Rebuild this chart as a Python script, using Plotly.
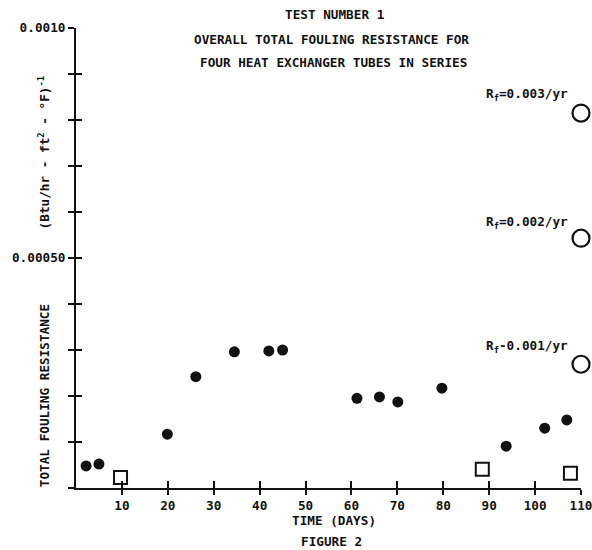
import plotly.graph_objects as go

# ---- data ----
fill_days = [2.2, 5.0, 19.9, 26.1, 34.5, 42.0, 45.0, 61.2, 66.1, 70.1, 79.7, 93.7, 102.1, 106.9]
fill_rf = [0.000048, 0.000052, 0.000117, 0.000242, 0.000296, 0.000298, 0.000300,
           0.000195, 0.000198, 0.000187, 0.000217, 0.000091, 0.000130, 0.000148]
square_days = [9.7, 88.5, 107.7]
square_rf = [0.000023, 0.000041, 0.000032]
rate_days = [110, 110, 110]
rate_rf = [0.000815, 0.000543, 0.000269]
rate_labels = ["R<sub>f</sub>=0.003/yr", "R<sub>f</sub>=0.002/yr", "R<sub>f</sub>-0.001/yr"]
rate_label_y = [0.000855, 0.000577, 0.000307]
rate_label_x = 98.3

x_ticks = [10, 20, 30, 40, 50, 60, 70, 80, 90, 100, 110]
y_ticks = [0.0, 0.0001, 0.0002, 0.0003, 0.0004, 0.0005, 0.0006, 0.0007, 0.0008, 0.0009, 0.0010]
y_label_vals = [0.0005, 0.0010]
y_label_text = ["0.00050", "0.0010"]

title_lines = ["TEST NUMBER 1", "OVERALL TOTAL FOULING RESISTANCE FOR",
               "FOUR HEAT EXCHANGER TUBES IN SERIES"]

FONT = "DejaVu Sans Mono, Liberation Mono, monospace"
BLACK = "#111111"

fig = go.Figure()
fig.add_trace(go.Scatter(x=fill_days, y=fill_rf, mode="markers",
                         marker=dict(symbol="circle", size=11, color=BLACK),
                         cliponaxis=False, showlegend=False))
fig.add_trace(go.Scatter(x=square_days, y=square_rf, mode="markers",
                         marker=dict(symbol="square-open", size=13, color=BLACK,
                                     line=dict(width=2, color=BLACK)),
                         cliponaxis=False, showlegend=False))
fig.add_trace(go.Scatter(x=rate_days, y=rate_rf, mode="markers",
                         marker=dict(symbol="circle-open", size=17, color=BLACK,
                                     line=dict(width=2.2, color=BLACK)),
                         cliponaxis=False, showlegend=False))
# invisible trace to carry the overlay axes (inside tick halves)
fig.add_trace(go.Scatter(x=[0], y=[0], xaxis="x2", yaxis="y2", mode="markers",
                         marker=dict(opacity=0), showlegend=False, hoverinfo="skip"))

tickfont = dict(family=FONT, size=12.7, color=BLACK, weight="bold")

fig.update_layout(
    width=592, height=550,
    margin=dict(l=76, r=11, t=28, b=62),
    paper_bgcolor="white", plot_bgcolor="white",
    xaxis=dict(range=[0, 110], tickvals=x_ticks, ticks="outside", ticklen=5,
               tickwidth=2, tickcolor=BLACK, showline=True, linewidth=2,
               linecolor=BLACK, showgrid=False, zeroline=False, tickfont=tickfont,
               automargin=False, ticklabeloverflow="allow"),
    yaxis=dict(range=[0, 0.0010], tickvals=y_label_vals, ticktext=y_label_text,
               ticks="outside", ticklen=6, tickwidth=2, tickcolor=BLACK,
               minor=dict(tickvals=y_ticks, ticks="outside", ticklen=6, tickwidth=2,
                          tickcolor=BLACK, showgrid=False),
               showline=True, linewidth=2, linecolor=BLACK, showgrid=False,
               zeroline=False, tickfont=tickfont, automargin=False,
               ticklabeloverflow="allow"),
    xaxis2=dict(range=[0, 110], overlaying="x", tickvals=x_ticks, ticks="inside",
                ticklen=7, tickwidth=2, tickcolor=BLACK, showticklabels=False,
                showgrid=False, zeroline=False, showline=False, automargin=False),
    yaxis2=dict(range=[0, 0.0010], overlaying="y", tickvals=y_ticks, ticks="inside",
                ticklen=6, tickwidth=2, tickcolor=BLACK, showticklabels=False,
                showgrid=False, zeroline=False, showline=False, automargin=False),
)

annfont = dict(family=FONT, size=12.7, color=BLACK, weight="bold")
title_y = [1.030, 0.976, 0.924]
title_x = [0.513, 0.505, 0.510]
for txt, ty, tx in zip(title_lines, title_y, title_x):
    fig.add_annotation(text=txt, x=tx, y=ty, xref="paper", yref="paper",
                       showarrow=False, font=annfont, xanchor="center", yanchor="middle")

for lab, ly in zip(rate_labels, rate_label_y):
    fig.add_annotation(text=lab, x=rate_label_x, y=ly, xref="x", yref="y",
                       showarrow=False, font=annfont, xanchor="center", yanchor="middle")

fig.add_annotation(text="(Btu/hr - ft<sup>2</sup> - °F)<sup>-1</sup>", x=-0.063, y=0.73,
                   xref="paper", yref="paper", textangle=-90, showarrow=False,
                   font=annfont, xanchor="center", yanchor="middle")
fig.add_annotation(text="TOTAL FOULING RESISTANCE", x=-0.063, y=0.2,
                   xref="paper", yref="paper", textangle=-90, showarrow=False,
                   font=annfont, xanchor="center", yanchor="middle")
fig.add_annotation(text="TIME (DAYS)", x=0.511, y=-0.070, xref="paper", yref="paper",
                   showarrow=False, font=annfont, xanchor="center", yanchor="middle")
fig.add_annotation(text="FIGURE 2", x=0.505, y=-0.117, xref="paper", yref="paper",
                   showarrow=False, font=annfont, xanchor="center", yanchor="middle")

fig.write_html("out.html", config={"displayModeBar": False},
               post_script="document.body.style.margin='0';"
                           "document.body.style.overflow='hidden';")
